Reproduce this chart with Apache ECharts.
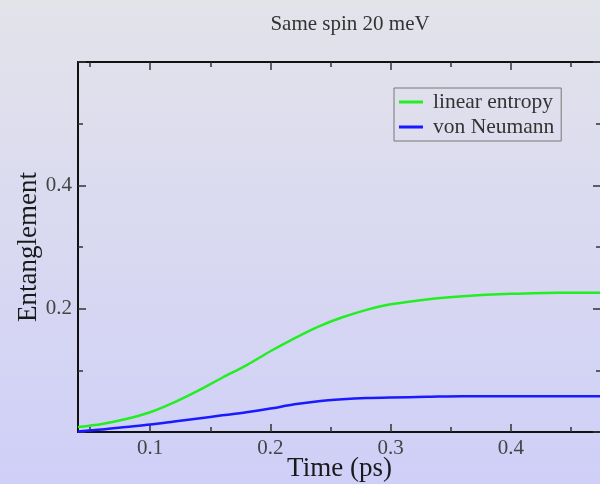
<!DOCTYPE html>
<html>
<head>
<meta charset="utf-8">
<script src="https://cdn.jsdelivr.net/npm/echarts@6/dist/echarts.min.js"></script>
<style>
  html, body { margin: 0; padding: 0; }
  #main { width: 600px; height: 484px; }
</style>
</head>
<body>
<div id="main"></div>
<script>
// time (ps)
const times = [0.04, 0.06, 0.08, 0.1, 0.12, 0.14, 0.16, 0.18, 0.2, 0.22, 0.24, 0.26, 0.28, 0.3, 0.33, 0.36, 0.4, 0.44, 0.475];
const linearEntropy = [0.008, 0.013, 0.021, 0.032, 0.048, 0.067, 0.088, 0.108, 0.131, 0.152, 0.171, 0.186, 0.198, 0.207, 0.215, 0.220, 0.224, 0.226, 0.226];
const vonNeumann = [0.001, 0.004, 0.008, 0.012, 0.017, 0.022, 0.027, 0.032, 0.038, 0.045, 0.050, 0.053, 0.055, 0.056, 0.057, 0.058, 0.058, 0.058, 0.058];
const xMajor = [0.1, 0.2, 0.3, 0.4];
const xMinor = [0.05, 0.15, 0.25, 0.35, 0.45];

const serif = 'Liberation Serif';
const chart = echarts.init(document.getElementById('main'));

const pairs = ys => times.map((t, i) => [t, ys[i]]);

// x axes: major/minor ticks, bottom and top (mirrored like grace)
function xAx(pos, ticks, len, withLabel, withLine) {
    return {
        type: 'value',
        position: pos,
        min: 0.04,
        max: 0.475,
        axisLine: { show: withLine, onZero: false, lineStyle: { color: '#111', width: 2 } },
        axisTick: { show: true, inside: true, length: len, customValues: ticks, lineStyle: { color: '#333', width: 1.5 } },
        axisLabel: withLabel ? {
            show: true, customValues: ticks, margin: 6,
            fontFamily: serif, fontSize: 21, color: '#444',
            formatter: v => v.toFixed(1)
        } : { show: false },
        splitLine: { show: false }
    };
}

function yAx(pos, withLabel) {
    return {
        type: 'value',
        position: pos,
        min: 0,
        max: 0.6,
        interval: 0.2,
        axisLine: { show: true, lineStyle: { color: '#111', width: 2 } },
        axisTick: { show: true, inside: true, length: 8, lineStyle: { color: '#333', width: 1.5 } },
        minorTick: { show: true, splitNumber: 2, length: 5, lineStyle: { color: '#333', width: 1.5 } },
        axisLabel: withLabel ? {
            show: true, margin: 6, showMinLabel: false, showMaxLabel: false,
            fontFamily: serif, fontSize: 21, color: '#444',
            formatter: v => v.toFixed(1)
        } : { show: false },
        splitLine: { show: false },
        minorSplitLine: { show: false }
    };
}

const xBottom = xAx('bottom', xMajor, 8, true, true);
xBottom.name = 'Time (ps)';
xBottom.nameLocation = 'middle';
xBottom.nameGap = 23;
xBottom.nameMoveOverlap = false;
xBottom.nameTextStyle = { fontFamily: serif, fontSize: 27, color: '#1a1a1a' };

const yLeft = yAx('left', true);
yLeft.name = 'Entanglement';
yLeft.nameLocation = 'middle';
yLeft.nameGap = 36;
yLeft.nameMoveOverlap = false;
yLeft.nameTextStyle = { fontFamily: serif, fontSize: 27, color: '#1a1a1a' };

const option = {
    backgroundColor: new echarts.graphic.LinearGradient(0, 0, 0, 1, [
        { offset: 0, color: '#e3e3ea' },
        { offset: 1, color: '#cfcff8' }
    ]),
    animation: false,
    title: {
        text: 'Same spin 20 meV',
        left: 345,
        top: 9,
        textAlign: 'center',
        textStyle: { fontFamily: serif, fontSize: 21, fontWeight: 'normal', color: '#333' }
    },
    legend: {
        orient: 'vertical',
        left: 394,
        top: 88,
        icon: 'rect',
        itemWidth: 24,
        itemHeight: 3,
        itemGap: 3,
        padding: [3, 7, 3, 5],
        borderColor: '#777',
        borderWidth: 1,
        textStyle: { fontFamily: serif, fontSize: 21.5, color: '#333', lineHeight: 22, padding: [0, 0, 0, 5] },
        data: ['linear entropy', 'von Neumann']
    },
    grid: { left: 78, right: -1, top: 62, bottom: 52, outerBoundsMode: 'none' },
    xAxis: [
        xBottom,
        xAx('bottom', xMinor, 5, false, false),
        xAx('top', xMajor, 8, false, true),
        xAx('top', xMinor, 5, false, false)
    ],
    yAxis: [yLeft, yAx('right', false)],
    series: [
        {
            name: 'linear entropy',
            type: 'line',
            xAxisIndex: 0,
            yAxisIndex: 0,
            smooth: 0.3,
            showSymbol: false,
            lineStyle: { color: '#22ee22', width: 2.5 },
            itemStyle: { color: '#22ee22' },
            data: pairs(linearEntropy)
        },
        {
            name: 'von Neumann',
            type: 'line',
            xAxisIndex: 0,
            yAxisIndex: 0,
            smooth: 0.3,
            showSymbol: false,
            lineStyle: { color: '#1a1aff', width: 2.5 },
            itemStyle: { color: '#1a1aff' },
            data: pairs(vonNeumann)
        }
    ]
};

chart.setOption(option);
</script>
</body>
</html>
